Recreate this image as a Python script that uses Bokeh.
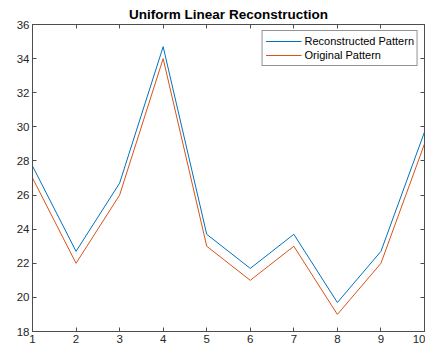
from bokeh.plotting import figure
from bokeh.models import (LinearAxis, Range1d, FixedTicker, Legend, LegendItem,
                          CustomLabelingPolicy)
from bokeh.embed import file_html
from bokeh.resources import INLINE

# sample index and pattern values
x = [1, 2, 3, 4, 5, 6, 7, 8, 9, 10]
original = [27, 22, 26, 34, 23, 21, 23, 19, 22, 29]
reconstructed = [27.7, 22.7, 26.7, 34.7, 23.7, 21.7, 23.7, 19.7, 22.7, 29.7]
x_ticks = [1, 2, 3, 4, 5, 6, 7, 8, 9, 10]
y_ticks = [18, 20, 22, 24, 26, 28, 30, 32, 34, 36]

BLUE = "#0072BD"
ORANGE = "#D95319"
AXIS = "#4d4d4d"
TEXT = "#262626"
FONT = "Liberation Sans"

p = figure(width=425, height=353, output_backend="svg", toolbar_location=None,
           x_range=Range1d(1, 10), y_range=Range1d(18, 36),
           min_border_left=32, min_border_right=1, min_border_top=24,
           min_border_bottom=22, x_axis_location=None, y_axis_location=None)
p.title.text = "Uniform Linear Reconstruction"
p.title.align = "center"
p.title.text_font = FONT
p.title.text_font_size = "13.5px"
p.title.text_font_style = "bold"
p.title.text_color = "#000000"
p.title.offset = 0
p.title.standoff = 6

p.grid.visible = False
p.outline_line_color = AXIS
p.outline_line_width = 1
p.background_fill_color = "white"
p.border_fill_color = "white"

# box-style axes: labelled bottom/left, tick-only top/right
no_labels = CustomLabelingPolicy(code="return new Set()")


def make_axis(ticks, labels=True):
    ax = LinearAxis(ticker=FixedTicker(ticks=ticks))
    ax.axis_line_color = AXIS
    ax.major_tick_line_color = AXIS
    ax.major_tick_in = 4
    ax.major_tick_out = 0
    ax.minor_tick_line_color = None
    ax.major_label_text_font = FONT
    ax.major_label_text_font_size = "11.5px"
    ax.major_label_text_color = TEXT
    ax.major_label_standoff = 3
    if not labels:
        ax.major_label_policy = no_labels
        ax.major_label_text_font_size = "0px"
        ax.major_label_standoff = 0
    return ax


p.add_layout(make_axis(x_ticks), "below")
p.add_layout(make_axis(y_ticks), "left")
p.add_layout(make_axis(x_ticks, labels=False), "above")
p.add_layout(make_axis(y_ticks, labels=False), "right")

r1 = p.line(x, reconstructed, line_color=BLUE, line_width=1)
r2 = p.line(x, original, line_color=ORANGE, line_width=1)

legend = Legend(items=[LegendItem(label="Reconstructed Pattern", renderers=[r1]),
                       LegendItem(label="Original Pattern", renderers=[r2])],
                location="top_right")
legend.label_text_font = FONT
legend.label_text_font_size = "11px"
legend.label_text_color = "#000000"
legend.border_line_color = TEXT
legend.border_line_width = 1
legend.glyph_width = 36
legend.glyph_height = 14
legend.label_height = 14
legend.label_standoff = 3
legend.spacing = 0
legend.padding = 3
legend.margin = 6
legend.background_fill_color = "white"
legend.background_fill_alpha = 1
p.add_layout(legend, "center")

open("out.html", "w").write(file_html(p, INLINE))
